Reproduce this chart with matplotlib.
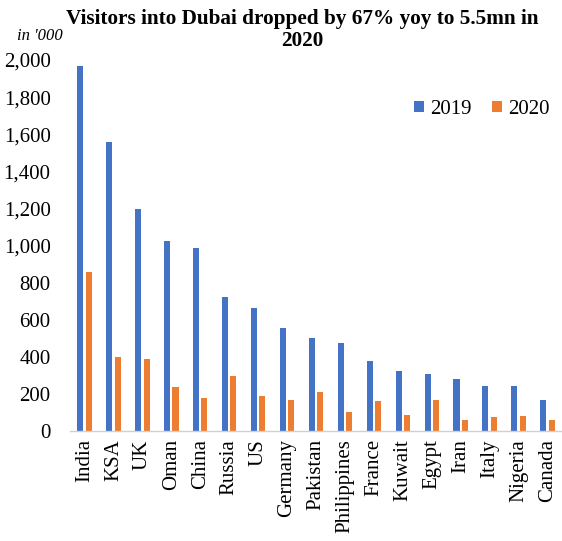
import numpy as np
import matplotlib.pyplot as plt

countries = ["India", "KSA", "UK", "Oman", "China", "Russia", "US", "Germany",
             "Pakistan", "Philippines", "France", "Kuwait", "Egypt", "Iran",
             "Italy", "Nigeria", "Canada"]
visitors_2019 = [1965, 1560, 1197, 1025, 985, 725, 665, 554,
                 500, 473, 379, 323, 309, 279, 244, 244, 165]
visitors_2020 = [859, 400, 390, 239, 180, 296, 190, 165,
                 209, 104, 163, 86, 169, 59, 74, 81, 59]
yticks = [0, 200, 400, 600, 800, 1000, 1200, 1400, 1600, 1800, 2000]

BLUE = "#4472C4"
ORANGE = "#ED7D31"

plt.rcParams["font.family"] = ["Liberation Serif", "DejaVu Serif"]

fig = plt.figure(figsize=(5.62, 5.41), dpi=100)
ax = fig.add_axes([70 / 562, 110 / 541, 492 / 562, 371 / 541])

x = np.arange(len(countries))
w = 0.21
ax.bar(x - 0.145, visitors_2019, width=w, color=BLUE, label="2019")
ax.bar(x + 0.145, visitors_2020, width=w, color=ORANGE, label="2020")

ax.set_xlim(-0.5, len(countries) - 0.5)
ax.set_ylim(0, 2000)
ax.set_yticks(yticks)
ax.set_yticklabels(["{:,}".format(v) for v in yticks], fontsize=15)
ax.set_xticks(x)
ax.set_xticklabels(countries, rotation=90, fontsize=15)
ax.tick_params(length=0, pad=6)
ax.tick_params(axis="y", pad=14)

for s in ["top", "right", "left"]:
    ax.spines[s].set_visible(False)
ax.spines["bottom"].set_color("#d0d0d0")
ax.spines["bottom"].set_linewidth(1)

ax.legend(loc="center right", bbox_to_anchor=(1.0, 0.867), ncol=2, frameon=False,
          fontsize=15, handlelength=0.45, handleheight=0.45, handletextpad=0.3,
          columnspacing=1.0, borderaxespad=0.2)

fig.text(302 / 562, 1 - 30 / 541,
         "Visitors into Dubai dropped by 67% yoy to 5.5mn in\n2020",
         ha="center", va="center", fontsize=15.3, fontweight="bold",
         linespacing=1.08)
fig.text(40 / 562, 1 - 36 / 541, "in '000", ha="center", va="center",
         fontsize=12, style="italic")

fig.savefig("out.png", dpi=100)
